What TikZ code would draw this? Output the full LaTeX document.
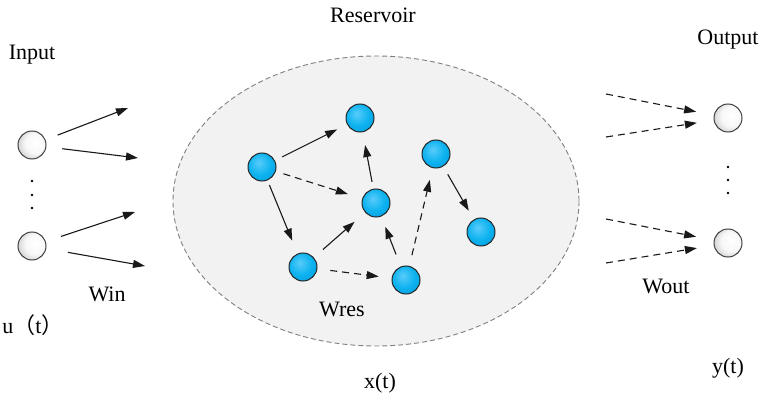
\documentclass[tikz,border=0pt]{standalone}
\usepackage{fontspec}
\setmainfont{Liberation Serif}
\newfontfamily\cjk{Noto Sans CJK SC}
\usetikzlibrary{arrows.meta}
\pgfdeclareradialshading{grayball}{\pgfpoint{8bp}{4bp}}{rgb(0bp)=(1,1,1); rgb(18bp)=(0.97,0.97,0.97); rgb(40bp)=(0.72,0.72,0.72); rgb(55bp)=(0.45,0.45,0.45); rgb(70bp)=(0.35,0.35,0.35)}
\pgfdeclareradialshading{blueball}{\pgfpoint{-6bp}{8bp}}{rgb(0bp)=(0.35,0.80,0.98); rgb(20bp)=(0.05,0.70,0.94); rgb(42bp)=(0,0.58,0.84); rgb(55bp)=(0,0.45,0.70); rgb(70bp)=(0,0.4,0.6)}
\begin{document}
\begin{tikzpicture}[x=1pt,y=-1pt,
  lbl/.style={font=\fontsize{22}{25}\selectfont, inner sep=0pt},
  inball/.style={circle, draw=black!75, line width=1pt, minimum size=28pt, inner sep=0pt, shading=grayball},
  resball/.style={circle, draw=black!85, line width=1pt, minimum size=28pt, inner sep=0pt, shading=blueball},
  arr/.style={-{Triangle[length=12pt,width=8pt]}, line width=1.1pt, black!90},
  darr/.style={arr, dash pattern=on 7pt off 5pt},
  dotc/.style={circle, fill=black, inner sep=0pt, minimum size=2.8pt}
]
\useasboundingbox[fill=white] (0,0) rectangle (763,398);

% reservoir
\draw[fill=black!5, draw=black!50, line width=0.9pt, dash pattern=on 5pt off 3pt] (376,201) ellipse [x radius=203, y radius=145];

% labels
\node[lbl] (tin) at (32,55) {Input};
\node[lbl] (tres) at (373,15) {Reservoir};
\node[lbl] (tout) at (728,40) {Output};
\node[lbl] (twin) at (107,294) {Win};
\node[lbl] (tu) at (33,325) {u{\cjk （}t{\cjk ）}};
\node[lbl] (twres) at (342,309) {Wres};
\node[lbl] (twout) at (666,286) {Wout};
\node[lbl] (ty) at (728,368) {y(t)};
\node[lbl] (tx) at (380,383) {x(t)};

% input nodes
\node[inball] (I1) at (32,145) {};
\node[inball] (I2) at (32,246) {};
\node[dotc] (id1) at (32,181) {};
\node[dotc] (id2) at (32,195) {};
\node[dotc] (id3) at (32,208) {};

\coordinate (ia1) at (128,108);
\coordinate (ia2) at (138,158);
\coordinate (ia3) at (135,212);
\coordinate (ia4) at (145,266);
\draw[arr, shorten <=13pt] (I1) -- (ia1);
\draw[arr, shorten <=16pt] (I1) -- (ia2);
\draw[arr, shorten <=16pt] (I2) -- (ia3);
\draw[arr, shorten <=22pt] (I2) -- (ia4);

% output nodes
\node[inball] (O1) at (728,118) {};
\node[inball] (O2) at (728,243) {};
\node[dotc] (od1) at (728,167) {};
\node[dotc] (od2) at (728,180) {};
\node[dotc] (od3) at (728,193) {};

\coordinate (oa1) at (606,94);
\coordinate (oa2) at (606,137);
\coordinate (oa3) at (606,219);
\coordinate (oa4) at (606,263);
\draw[darr, shorten >=18pt] (oa1) -- (O1);
\draw[darr, shorten >=17pt] (oa2) -- (O1);
\draw[darr, shorten >=18pt] (oa3) -- (O2);
\draw[darr, shorten >=17pt] (oa4) -- (O2);

% reservoir nodes
\node[resball] (A) at (262,167) {};
\node[resball] (B) at (360,118) {};
\node[resball] (C) at (376,203) {};
\node[resball] (D) at (303,267) {};
\node[resball] (E) at (406,280) {};
\node[resball] (F) at (436,154) {};
\node[resball] (G) at (481,232) {};

\draw[arr, shorten <=8pt, shorten >=11pt] (A) -- (B);
\draw[darr, shorten <=8pt, shorten >=15pt] (A) -- (C);
\draw[arr, shorten <=5pt, shorten >=14pt] (A) -- (D);
\draw[arr, shorten <=12pt, shorten >=14pt] (D) -- (C);
\draw[darr, shorten <=13pt, shorten >=13pt] (D) -- (E);
\draw[arr, shorten <=7pt, shorten >=13pt] (C) -- (B);
\draw[arr, shorten <=13pt, shorten >=11pt] (E) -- (C);
\draw[darr, shorten <=11pt, shorten >=12pt] (E) -- (F);
\draw[arr, shorten <=9pt, shorten >=10pt] (F) -- (G);
\end{tikzpicture}
\end{document}
